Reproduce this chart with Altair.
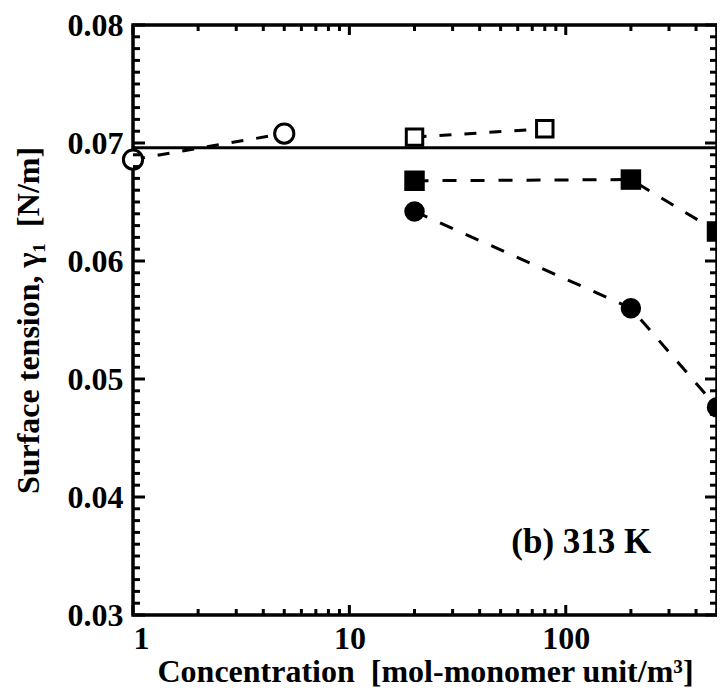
import altair as alt
import pandas as pd

# ---- data ----
open_circle_x = [1, 5]
open_circle_y = [0.0686, 0.0708]
open_square_x = [20, 80]
open_square_y = [0.0705, 0.0712]
filled_square_x = [20, 200, 500]
filled_square_y = [0.0668, 0.0669, 0.0625]
filled_circle_x = [20, 200, 500]
filled_circle_y = [0.0642, 0.0560, 0.0476]
water_tension = 0.0696

x_domain = [1, 500]
y_domain = [0.03, 0.08]
x_major = [1, 10, 100]
x_minor = [2, 3, 4, 5, 6, 7, 8, 9, 20, 30, 40, 50, 60, 70, 80, 90, 200, 300, 400, 500]
y_major = [0.03, 0.04, 0.05, 0.06, 0.07, 0.08]
y_minor = [round(0.03 + i * 0.001, 3) for i in range(51) if i % 10 != 0]

annotation = "(b) 313 K"
annot_x = [118]
annot_y = [0.0362]

x_title = "Concentration \u00a0[mol-monomer unit/m³]"
y_title = "Surface tension, γ₁ \u00a0[N/m]"

W, H = 584, 590
FONT = "Liberation Serif"

xs = alt.Scale(type="log", domain=x_domain, nice=False)
ys = alt.Scale(domain=y_domain, nice=False, zero=False)

X = alt.X("x:Q", scale=xs,
          axis=alt.Axis(values=x_major, format="d", ticks=False, grid=False, domain=False,
                        labelPadding=8, titlePadding=2, title=x_title))
Y = alt.Y("y:Q", scale=ys,
          axis=alt.Axis(values=y_major, format=".2f", ticks=False, grid=False, domain=False,
                        labelPadding=10, titlePadding=22, title=y_title))

def series(x, y, shape, filled, size, dash):
    d = pd.DataFrame({"x": x, "y": y})
    line = alt.Chart(d).mark_line(color="black", strokeWidth=3, strokeDash=dash).encode(x=X, y=Y)
    pt = alt.Chart(d).mark_point(shape=shape, filled=filled, size=size, color="black",
                                 strokeWidth=3, opacity=1,
                                 fill="black" if filled else "white").encode(x=X, y=Y)
    return [line, pt]

layers = []
layers.append(alt.Chart(pd.DataFrame({"y": [water_tension]})).mark_rule(color="black", strokeWidth=3)
              .encode(y=Y, x=alt.value(0), x2=alt.value(W)))
layers += series(open_circle_x, open_circle_y, "circle", False, 370, [12, 13])
layers += series(open_square_x, open_square_y, "square", False, 270, [12, 13])
layers += series(filled_square_x, filled_square_y, "square", True, 420, [14, 14])
layers += series(filled_circle_x, filled_circle_y, "circle", True, 420, [14, 14])

# inside ticks on all four sides
def xticks(vals, ln):
    d = pd.DataFrame({"x": vals})
    b = alt.Chart(d).mark_rule(color="black", strokeWidth=3).encode(x=X, y=alt.value(H), y2=alt.value(H - ln))
    t = alt.Chart(d).mark_rule(color="black", strokeWidth=3).encode(x=X, y=alt.value(0), y2=alt.value(ln))
    return [b, t]

def yticks(vals, ln):
    d = pd.DataFrame({"y": vals})
    l = alt.Chart(d).mark_rule(color="black", strokeWidth=3).encode(y=Y, x=alt.value(0), x2=alt.value(ln))
    r = alt.Chart(d).mark_rule(color="black", strokeWidth=3).encode(y=Y, x=alt.value(W), x2=alt.value(W - ln))
    return [l, r]

layers += xticks(x_major, 10) + xticks(x_minor, 6)
layers += yticks(y_major, 12) + yticks(y_minor, 7)

layers.append(alt.Chart(pd.DataFrame({"x": annot_x, "y": annot_y, "t": [annotation]}))
              .mark_text(font=FONT, fontWeight="bold", fontSize=35, color="black")
              .encode(x=X, y=Y, text="t:N"))

chart = alt.layer(*layers).properties(
    width=W, height=H,
    autosize=alt.AutoSizeParams(type="none"),
    padding={"left": 125, "top": 17, "right": 0, "bottom": 74},
).configure_view(stroke="black", strokeWidth=3.5).configure_axis(
    labelFont=FONT, labelFontWeight="bold", labelFontSize=32, labelColor="black",
    titleFont=FONT, titleFontWeight="bold", titleFontSize=32, titleColor="black",
)

chart.save("out.html", embed_options={"renderer": "svg", "actions": False})
